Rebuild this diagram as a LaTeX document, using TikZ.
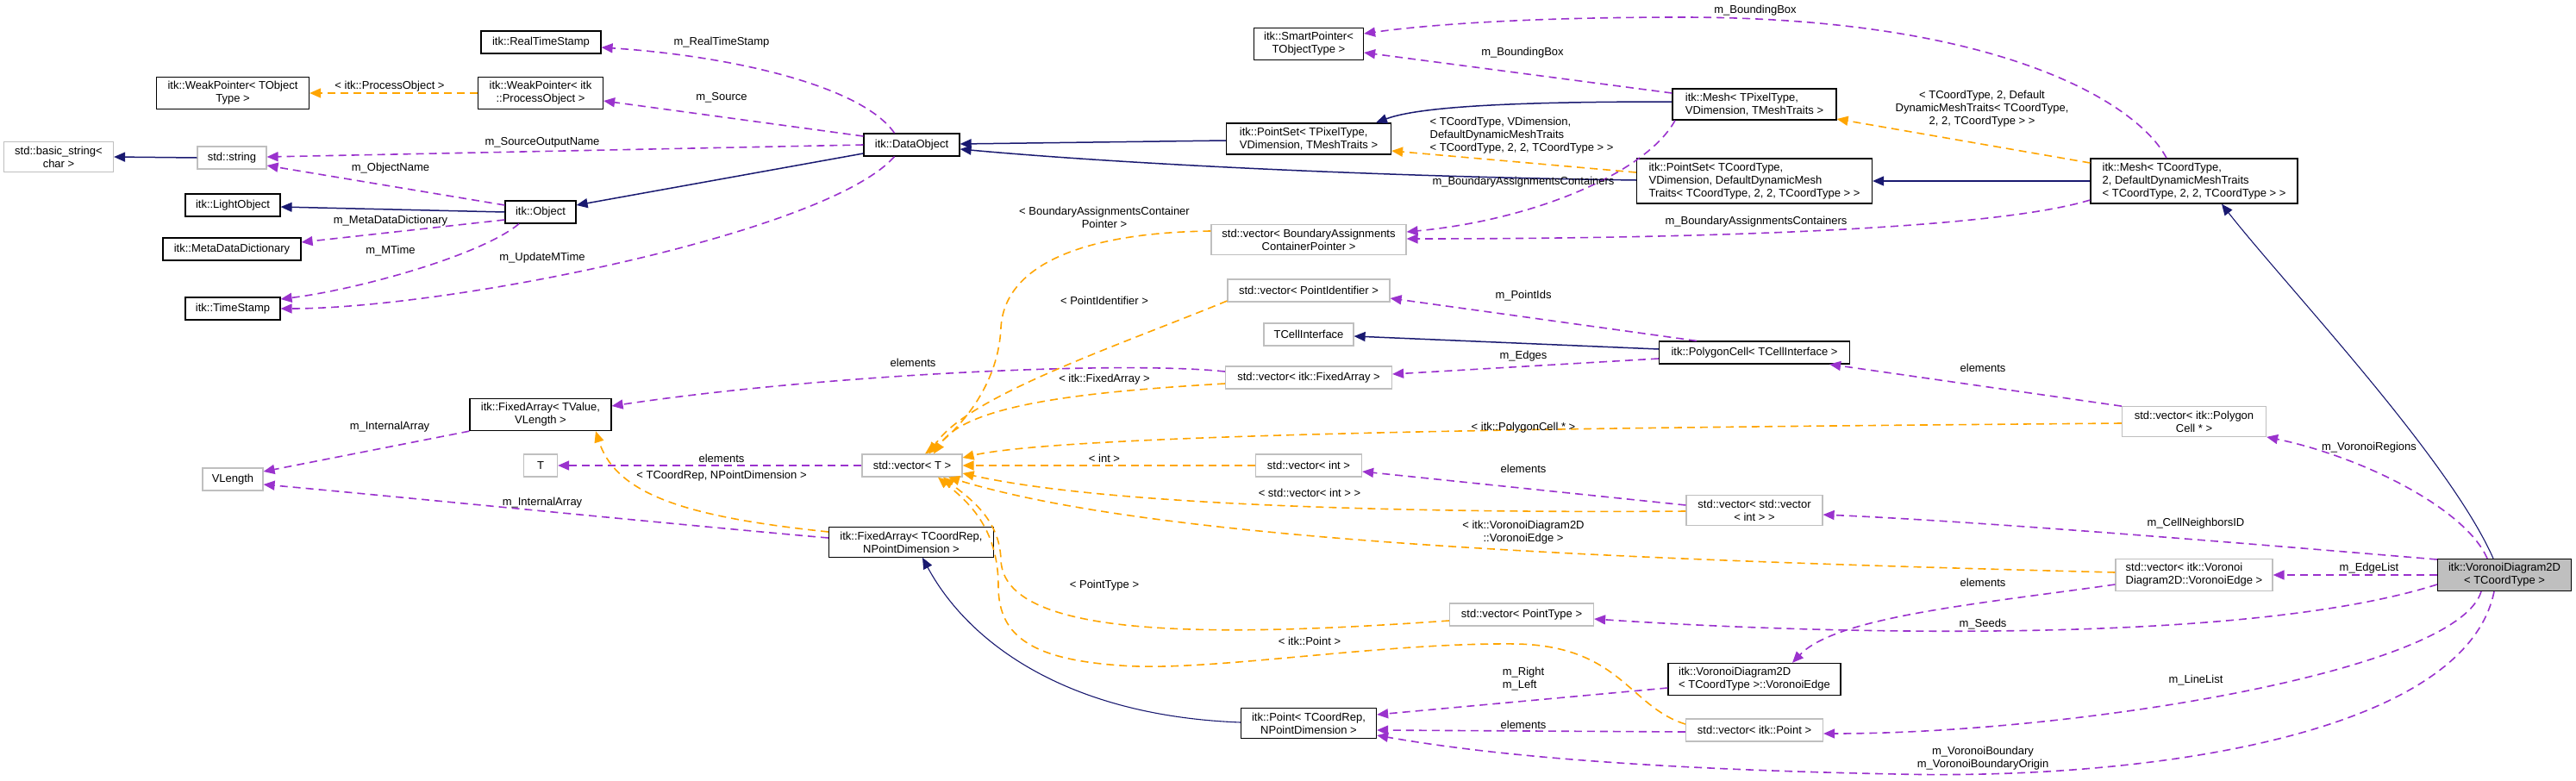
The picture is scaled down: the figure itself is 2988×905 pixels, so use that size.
\documentclass[tikz,border=0pt]{standalone}
\usepackage{fontspec}
\setmainfont{Liberation Sans}
\usetikzlibrary{arrows.meta}
\definecolor{navyc}{HTML}{191970}
\definecolor{usec}{HTML}{9A32CD}
\definecolor{tmplc}{HTML}{FFA500}
\definecolor{extc}{HTML}{BFBFBF}
\begin{document}
\begin{tikzpicture}[x=1pt,y=-1pt,
  font=\fontsize{13}{15}\selectfont,
  box/.style={align=center,inner xsep=6pt,inner ysep=5pt,minimum height=26pt,line width=1.2pt,fill=white},
  cls/.style={box,draw=black},
  ext/.style={box,draw=extc},
  main/.style={box,draw=black,fill=extc},
  lbl/.style={align=center,inner sep=1pt},
  tip/.style={-{Triangle[length=13pt,width=11pt]}},
  inh/.style={tip,navyc,line width=1.5pt},
  use/.style={tip,usec,line width=1.6pt,dash pattern=on 9pt off 6pt},
  tmpl/.style={tip,tmplc,line width=1.6pt,dash pattern=on 9pt off 6pt}]
 \useasboundingbox (0,0) rectangle (2988,905);
 % classes
 \node[cls,minimum width=139pt] (rts) at (627.5,49) {itk::RealTimeStamp};
 \node[cls,minimum width=177pt] (wpt) at (270,108) {itk::WeakPointer< TObject\\Type >};
 \node[cls,minimum width=145pt] (wpp) at (627,108) {itk::WeakPointer< itk\\::ProcessObject >};
 \node[ext,minimum width=127pt] (bstr) at (68,182) {std::basic\_string<\\char >};
 \node[ext,minimum width=80pt] (str) at (269,183) {std::string};
 \node[cls,minimum width=110pt] (lobj) at (270,238) {itk::LightObject};
 \node[cls,minimum width=82pt] (obj) at (627,246) {itk::Object};
 \node[cls,minimum width=160pt] (mdd) at (269,289) {itk::MetaDataDictionary};
 \node[cls,minimum width=110pt] (tstamp) at (270,358) {itk::TimeStamp};
 \node[cls,minimum width=111pt] (dataobj) at (1057.5,168) {itk::DataObject};
 \node[cls,minimum width=164pt] (fav) at (627,481) {itk::FixedArray< TValue,\\VLength >};
 \node[ext,minimum width=39pt] (tt) at (627,540) {T};
 \node[ext,minimum width=70pt] (vlen) at (270,556) {VLength};
 \node[ext,minimum width=116pt] (vect) at (1058,540) {std::vector< T >};
 \node[cls,minimum width=191pt] (fac) at (1057,629) {itk::FixedArray< TCoordRep,\\NPointDimension >};
 \node[cls,minimum width=127pt] (sptr) at (1518,51) {itk::SmartPointer<\\TObjectType >};
 \node[cls,minimum width=191pt,align=left] (psp) at (1518,161) {itk::PointSet< TPixelType,\\ VDimension, TMeshTraits >};
 \node[cls,minimum width=190pt,align=left] (meshp) at (2035,121) {itk::Mesh< TPixelType,\\ VDimension, TMeshTraits >};
 \node[cls,minimum width=273pt,align=left] (psc) at (2035,210) {itk::PointSet< TCoordType,\\ VDimension, DefaultDynamicMesh\\Traits< TCoordType, 2, 2, TCoordType > >};
 \node[cls,minimum width=240pt,align=left] (meshc) at (2545,210) {itk::Mesh< TCoordType,\\ 2, DefaultDynamicMeshTraits\\< TCoordType, 2, 2, TCoordType > >};
 \node[ext,minimum width=226pt] (vbac) at (1518,278) {std::vector< BoundaryAssignments\\ContainerPointer >};
 \node[ext,minimum width=188pt] (vpid) at (1518,337) {std::vector< PointIdentifier >};
 \node[ext,minimum width=104pt] (tci) at (1518,388) {TCellInterface};
 \node[ext,minimum width=193pt] (vfa) at (1518,438) {std::vector< itk::FixedArray >};
 \node[cls,minimum width=221pt] (pcell) at (2035,409) {itk::PolygonCell< TCellInterface >};
 \node[ext,minimum width=123pt] (vint) at (1518,540) {std::vector< int >};
 \node[ext,minimum width=158pt] (vvint) at (2035,592) {std::vector< std::vector\\< int > >};
 \node[ext,minimum width=167pt] (vpc) at (2545,489) {std::vector< itk::Polygon\\Cell * >};
 \node[main,minimum width=155pt] (voronoi) at (2905,667) {itk::VoronoiDiagram2D\\< TCoordType >};
 \node[ext,minimum width=182pt,align=left] (vve) at (2545,667) {std::vector< itk::Voronoi\\Diagram2D::VoronoiEdge >};
 \node[cls,minimum width=200pt,align=left] (vedge) at (2035,788) {itk::VoronoiDiagram2D\\< TCoordType >::VoronoiEdge};
 \node[ext,minimum width=159pt] (vpts) at (2035,847) {std::vector< itk::Point >};
 \node[ext,minimum width=167pt] (vptype) at (1765,713) {std::vector< PointType >};
 \node[cls,minimum width=157pt] (point) at (1518,839) {itk::Point< TCoordRep,\\NPointDimension >};
 % inheritance
 \draw[inh] (str.west) -- (bstr.east);
 \draw[inh] (obj.west) -- ([yshift=-2pt]lobj.east);
 \draw[inh] ([yshift=-10pt]dataobj.west) -- ([yshift=8pt]obj.east);
 \draw[inh] ([yshift=-2pt]psp.west) -- ([yshift=1pt]dataobj.east);
 \draw[inh] ([yshift=1pt]psc.west) .. controls (1600,205) and (1300,190) .. ([yshift=-5pt]dataobj.east);
 \draw[inh] ([yshift=3pt]meshp.west) .. controls (1780,118) and (1650,122) .. ([xshift=78pt]psp.north);
 \draw[inh] (meshc.west) -- (psc.east);
 \draw[inh,line width=1.1pt] ([xshift=-13pt]voronoi.north) .. controls (2840,530) and (2650,330) .. ([xshift=32pt]meshc.south);
 \draw[inh] ([yshift=4pt]pcell.west) -- ([yshift=-2pt]tci.east);
 \draw[inh,line width=1.1pt] ([yshift=1pt]point.west) .. controls (1230,830) and (1120,740) .. ([xshift=13pt]fac.south);
 % members
 \draw[use] ([xshift=-20pt]dataobj.north) .. controls (1000,100) and (850,65) .. ([yshift=-6pt]rts.east);
 \draw[use] ([yshift=10pt]dataobj.west) -- ([yshift=-9pt]wpp.east);
 \draw[use] (dataobj.west) -- ([yshift=1pt]str.east);
 \draw[use] ([yshift=8pt]obj.west) -- ([yshift=-9pt]str.east);
 \draw[use] ([yshift=-9pt]obj.west) -- ([yshift=8pt]mdd.east);
 \draw[use] ([xshift=-25pt]obj.south) .. controls (560,295) and (420,335) .. ([yshift=11pt]tstamp.east);
 \draw[use] ([xshift=-20pt]dataobj.south) .. controls (960,270) and (520,358) .. (tstamp.east);
 \draw[use] ([yshift=13pt]meshp.west) -- ([yshift=-10pt]sptr.east);
 \draw[use] ([xshift=-32pt]meshc.north) .. controls (2480,120) and (2320,20) .. (1950,20)
   .. controls (1780,20) and (1660,28) .. ([yshift=12pt]sptr.east);
 \draw[use] ([xshift=-92pt]meshp.south) .. controls (1910,200) and (1780,255) .. ([yshift=9pt]vbac.east);
 \draw[use] ([yshift=-22pt]meshc.west) .. controls (2300,270) and (1900,277) .. ([yshift=1pt]vbac.east);
 \draw[use] ([xshift=-67pt]pcell.north) -- ([yshift=-9pt]vpid.east);
 \draw[use] ([yshift=-7pt]pcell.west) -- ([yshift=4pt]vfa.east);
 \draw[use] ([yshift=7pt]vfa.west) .. controls (1300,418) and (950,435) .. ([yshift=10pt]fav.east);
 \draw[use] (fav.south west) -- ([yshift=9pt]vlen.east);
 \draw[use] ([yshift=5pt]fac.west) .. controls (800,610) and (450,575) .. ([yshift=-6pt]vlen.east);
 \draw[use] (vect.west) -- (tt.east);
 \draw[use] (vpc.north west) -- ([xshift=-24pt]pcell.south east);
 \draw[use] ([xshift=-20pt]voronoi.north) .. controls (2860,590) and (2740,530) .. (vpc.south east);
 \draw[use] ([yshift=18pt]voronoi.west) .. controls (2600,630) and (2300,605) .. ([yshift=-5pt]vvint.east);
 \draw[use] ([yshift=6pt]vvint.west) -- ([yshift=-7pt]vint.east);
 \draw[use] (voronoi.west) -- (vve.east);
 \draw[use] ([yshift=-11pt]vve.west) .. controls (2300,700) and (2130,715) .. ([xshift=44pt]vedge.north);
 \draw[use] ([yshift=-11pt]voronoi.west) .. controls (2600,750) and (2100,735) .. ([yshift=-5pt]vptype.east);
 \draw[use] ([yshift=-10pt]vedge.west) -- ([yshift=10pt]point.east);
 \draw[use] ([yshift=-2pt]vpts.west) -- ([yshift=-8pt]point.east);
 \draw[use] ([xshift=-27pt]voronoi.south) .. controls (2850,780) and (2400,851) .. ([yshift=-4pt]vpts.east);
 \draw[use] ([xshift=-12pt]voronoi.south) .. controls (2860,850) and (2500,905) .. (2200,898)
   .. controls (1950,893) and (1750,880) .. ([yshift=-14pt]point.east);
 % template instances
 \draw[tmpl] (wpp.west) -- (wpt.east);
 \draw[tmpl] ([yshift=10pt]psc.west) -- ([yshift=-14pt]psp.east);
 \draw[tmpl] ([yshift=21pt]meshc.west) -- ([yshift=-17pt]meshp.east);
 \draw[tmpl] ([yshift=10pt]vbac.west) .. controls (1250,270) and (1165,310) .. (1161,380)
   .. controls (1158,450) and (1110,500) .. ([xshift=15pt]vect.north);
 \draw[tmpl] ([yshift=-12pt]vpid.west) .. controls (1300,400) and (1120,460) .. ([xshift=20pt]vect.north);
 \draw[tmpl] ([yshift=-7pt]vfa.west) .. controls (1250,455) and (1120,470) .. ([xshift=25pt]vect.north);
 \draw[tmpl] ([yshift=-2pt]vpc.west) .. controls (2000,495) and (1250,500) .. ([yshift=9pt]vect.east);
 \draw[tmpl] (vint.west) -- (vect.east);
 \draw[tmpl] ([yshift=-1pt]vvint.west) .. controls (1700,595) and (1300,590) .. ([yshift=-9pt]vect.east);
 \draw[tmpl] ([yshift=3pt]vve.west) .. controls (1900,650) and (1350,630) .. ([xshift=42pt]vect.south);
 \draw[tmpl] ([yshift=-7pt]vptype.west) .. controls (1400,740) and (1165,740) .. (1161,650)
   .. controls (1160,600) and (1120,575) .. ([xshift=36pt]vect.south);
 \draw[tmpl] ([yshift=7pt]vpts.west) .. controls (1890,820) and (1880,750) .. (1760,747)
   .. controls (1600,745) and (1400,780) .. (1300,772) .. controls (1200,765) and (1158,740) .. (1158,680)
   .. controls (1158,610) and (1120,580) .. ([xshift=30pt]vect.south);
 \draw[tmpl] ([yshift=12pt]fac.west) .. controls (800,600) and (715,575) .. ([xshift=64pt]fav.south);
 % labels
 \node[lbl] (lrts) at (837,49) {m\_RealTimeStamp};
 \node[lbl] (lpo) at (452,100) {< itk::ProcessObject >};
 \node[lbl] (lsrc) at (837,113) {m\_Source};
 \node[lbl] (lson) at (629,165) {m\_SourceOutputName};
 \node[lbl] (lobjn) at (453,195) {m\_ObjectName};
 \node[lbl] (lmdd) at (453,256) {m\_MetaDataDictionary};
 \node[lbl] (lmt) at (453,291) {m\_MTime};
 \node[lbl] (lumt) at (629,299) {m\_UpdateMTime};
 \node[lbl] (lbb1) at (2036,12) {m\_BoundingBox};
 \node[lbl] (lbb2) at (1766,61) {m\_BoundingBox};
 \node[lbl,align=left] (lpsc) at (1765,157) {< TCoordType, VDimension,\\DefaultDynamicMeshTraits\\< TCoordType, 2, 2, TCoordType > >};
 \node[lbl] (lbac1) at (1767,211) {m\_BoundaryAssignmentsContainers};
 \node[lbl] (lbacp) at (1281,252) {< BoundaryAssignmentsContainer\\Pointer >};
 \node[lbl] (lbac2) at (2037,257) {m\_BoundaryAssignmentsContainers};
 \node[lbl] (lmeshc) at (2299,126) {< TCoordType, 2, Default\\DynamicMeshTraits< TCoordType,\\2, 2, TCoordType > >};
 \node[lbl] (lelfa) at (1059,421) {elements};
 \node[lbl] (lia1) at (452,495) {m\_InternalArray};
 \node[lbl] (lelt) at (837,532) {elements};
 \node[lbl] (ltcr) at (837,552) {< TCoordRep, NPointDimension >};
 \node[lbl] (lia2) at (629,583) {m\_InternalArray};
 \node[lbl] (lpid) at (1281,349) {< PointIdentifier >};
 \node[lbl] (lpids) at (1767,343) {m\_PointIds};
 \node[lbl] (ledges) at (1767,413) {m\_Edges};
 \node[lbl] (lfa) at (1281,440) {< itk::FixedArray >};
 \node[lbl] (lpc) at (1767,496) {< itk::PolygonCell * >};
 \node[lbl] (lint) at (1281,532) {< int >};
 \node[lbl] (lelint) at (1767,544) {elements};
 \node[lbl] (lvint) at (1519,572) {< std::vector< int > >};
 \node[lbl] (lve) at (1767,618) {< itk::VoronoiDiagram2D\\::VoronoiEdge >};
 \node[lbl] (lpt) at (1281,679) {< PointType >};
 \node[lbl] (lipt) at (1519,744) {< itk::Point >};
 \node[lbl,align=left] (lrl) at (1767,788) {m\_Right\\m\_Left};
 \node[lbl] (lelpt) at (1767,841) {elements};
 \node[lbl] (lelpc) at (2300,427) {elements};
 \node[lbl] (lvr) at (2748,519) {m\_VoronoiRegions};
 \node[lbl] (lcn) at (2547,607) {m\_CellNeighborsID};
 \node[lbl] (lel) at (2748,659) {m\_EdgeList};
 \node[lbl] (lelve) at (2300,676) {elements};
 \node[lbl] (lseeds) at (2300,724) {m\_Seeds};
 \node[lbl] (lll) at (2547,789) {m\_LineList};
 \node[lbl] (lvb) at (2300,880) {m\_VoronoiBoundary\\m\_VoronoiBoundaryOrigin};
\end{tikzpicture}
\end{document}
